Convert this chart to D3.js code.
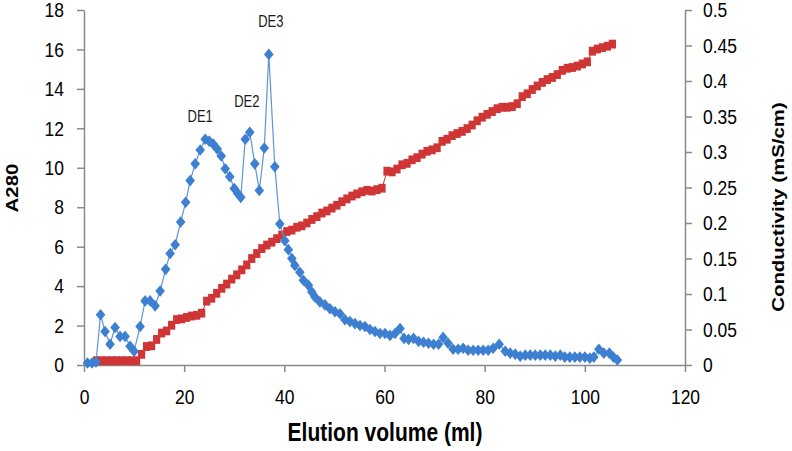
<!DOCTYPE html>
<html>
<head>
<meta charset="utf-8">
<script src="https://cdn.jsdelivr.net/npm/d3@7/dist/d3.min.js"></script>
<style>
  body { margin: 0; background: #fff; }
  text { font-family: "Liberation Sans", Arial, sans-serif; }
</style>
</head>
<body>
<div id="wrapper"></div>
<script>
// A280 readings (blue diamonds, left axis)
const volumeA280 = [
  0.7, 1.6, 2.4, 3.3, 4.2, 5.2, 6.2, 7.2, 8.2, 9.2, 10.0, 11.2, 12.2, 13.2, 14.2, 15.2,
  16.3, 17.2, 18.2, 19.3, 20.3, 21.2, 22.2, 23.2, 24.2, 25.0, 25.8, 26.6, 27.4, 28.2,
  29.1, 30.0, 30.7, 31.3, 32.2, 33.1, 34.1, 35.0, 36.0, 36.9, 38.1, 39.1, 40.1, 40.8,
  41.5, 42.1, 43.1, 43.8, 44.8, 45.5, 46.1, 47.1, 48.1, 49.1, 50.1, 51.1, 52.1, 53.1,
  54.1, 55.1, 56.1, 57.1, 58.1, 59.1, 60.1, 61.1, 62.1, 63.1, 63.9, 64.8, 65.8, 66.8,
  67.8, 68.8, 69.8, 70.8, 71.7, 72.7, 73.7, 74.7, 75.7, 76.7, 77.7, 78.7, 79.7, 80.7,
  81.7, 82.9, 84.1, 85.1, 86.1, 87.1, 88.1, 89.1, 90.1, 91.1, 92.1, 93.1, 94.1, 95.1,
  96.0, 97.0, 98.0, 99.0, 100.0, 101.0, 101.8, 102.8, 103.8, 104.9, 105.7, 106.5
]
const a280 = [
  0.1, 0.1, 0.15, 2.55, 1.7, 1.05, 1.9, 1.45, 1.45, 0.95, 0.7, 1.95, 3.25, 3.25, 3.0, 3.75,
  4.85, 5.65, 6.1, 7.25, 8.25, 9.35, 10.2, 10.9, 11.45, 11.35, 11.2, 10.95, 10.6, 9.95,
  9.55, 8.95, 8.7, 8.5, 11.45, 11.8, 10.2, 8.85, 11.0, 15.75, 10.05, 7.15, 6.3, 5.85,
  5.4, 5.05, 4.7, 4.3, 4.05, 3.7, 3.45, 3.2, 3.05, 2.85, 2.7, 2.6, 2.3, 2.2,
  2.1, 2.0, 1.95, 1.8, 1.7, 1.6, 1.6, 1.5, 1.6, 1.85, 1.35, 1.3, 1.35, 1.2,
  1.15, 1.1, 1.05, 1.05, 1.4, 1.1, 0.8, 0.8, 0.85, 0.75, 0.75, 0.75, 0.75, 0.75,
  0.85, 1.05, 0.7, 0.6, 0.55, 0.45, 0.5, 0.5, 0.5, 0.5, 0.5, 0.5, 0.45, 0.5,
  0.4, 0.4, 0.4, 0.4, 0.4, 0.35, 0.4, 0.8, 0.6, 0.6, 0.4, 0.25
]

// conductivity readings (red squares, right axis)
const volumeCond = [
  2.5, 3.5, 4.5, 5.5, 6.5, 7.5, 8.5, 9.5, 10.5, 11.5, 12.5, 13.5, 14.5, 15.5, 16.5, 17.5,
  18.5, 19.5, 20.5, 21.5, 22.5, 23.5, 24.5, 25.5, 26.5, 27.5, 28.5, 29.5, 30.5, 31.5,
  32.5, 33.5, 34.5, 35.5, 36.5, 37.5, 38.5, 39.5, 40.5, 41.5, 42.5, 43.5, 44.5, 45.5,
  46.5, 47.5, 48.5, 49.5, 50.5, 51.5, 52.5, 53.5, 54.5, 55.5, 56.5, 57.5, 58.5, 59.5,
  60.5, 61.5, 62.5, 63.5, 64.5, 65.5, 66.5, 67.5, 68.5, 69.5, 70.5, 71.5, 72.5, 73.5,
  74.5, 75.5, 76.5, 77.5, 78.5, 79.5, 80.5, 81.5, 82.5, 83.5, 84.5, 85.5, 86.5, 87.5,
  88.5, 89.5, 90.5, 91.5, 92.5, 93.5, 94.5, 95.5, 96.5, 97.5, 98.5, 99.5, 100.5, 101.5,
  102.5, 103.5, 104.5, 105.5
]
const conductivity = [
  0.006, 0.006, 0.006, 0.006, 0.006, 0.006, 0.006, 0.006, 0.006, 0.015, 0.026, 0.027, 0.036, 0.045, 0.048, 0.056,
  0.064, 0.065, 0.067, 0.069, 0.070, 0.073, 0.090, 0.094, 0.101, 0.108, 0.114, 0.121, 0.127, 0.134,
  0.141, 0.150, 0.157, 0.164, 0.169, 0.173, 0.178, 0.183, 0.188, 0.190, 0.194, 0.196, 0.200, 0.205,
  0.209, 0.214, 0.217, 0.221, 0.225, 0.230, 0.234, 0.238, 0.241, 0.244, 0.246, 0.245, 0.247, 0.249,
  0.273, 0.272, 0.276, 0.282, 0.284, 0.289, 0.292, 0.297, 0.301, 0.303, 0.306, 0.315, 0.318, 0.323,
  0.326, 0.329, 0.333, 0.338, 0.344, 0.349, 0.353, 0.357, 0.361, 0.363, 0.363, 0.364, 0.368, 0.378,
  0.382, 0.388, 0.393, 0.398, 0.402, 0.405, 0.409, 0.415, 0.418, 0.419, 0.421, 0.424, 0.427, 0.442,
  0.445, 0.447, 0.449, 0.452
]

const xTicks = [0, 20, 40, 60, 80, 100, 120]
const leftTicks = [0, 2, 4, 6, 8, 10, 12, 14, 16, 18]
const rightTicks = [0, 0.05, 0.1, 0.15, 0.2, 0.25, 0.3, 0.35, 0.4, 0.45, 0.5]

const peakNames = ["DE1", "DE2", "DE3"]
const peakLabelVolume = [23.2, 32.5, 37.3]
const peakLabelA280 = [12.3, 13.1, 17.15]

function drawChart() {

  // 1. Dimensions
  let dimensions = {
    width: 792,
    height: 451,
    margin: { top: 10, right: 107, bottom: 86, left: 84 },
  }
  dimensions.boundedWidth = dimensions.width - dimensions.margin.left - dimensions.margin.right
  dimensions.boundedHeight = dimensions.height - dimensions.margin.top - dimensions.margin.bottom

  // the picture is stretched a bit vertically, text too
  const stretch = 1.2
  const axisColor = "#8a8a8a"
  const blue = "#3d7fd1"
  const red = "#cf3535"

  // 2. Canvas
  const wrapper = d3.select("#wrapper")
    .append("svg")
      .attr("width", dimensions.width)
      .attr("height", dimensions.height)

  const bounds = wrapper.append("g")
      .attr("transform", `translate(${dimensions.margin.left}, ${dimensions.margin.top})`)

  // 3. Scales
  const xScale = d3.scaleLinear()
    .domain([0, 120])
    .range([0, dimensions.boundedWidth])

  const yScale = d3.scaleLinear()
    .domain([0, 18])
    .range([dimensions.boundedHeight, 0])

  const y2Scale = d3.scaleLinear()
    .domain([0, 0.5])
    .range([dimensions.boundedHeight, 0])

  // 4. Axes
  const styleAxis = (g) => {
    g.select(".domain").attr("stroke", axisColor).attr("stroke-width", 1.5)
    g.selectAll(".tick line").attr("stroke", axisColor).attr("stroke-width", 1.5)
    g.selectAll(".tick text")
      .attr("fill", "#000")
      .style("font-size", "17.5px")
      .attr("transform", `scale(1, ${stretch})`)
  }

  const yAxis = bounds.append("g")
    .call(d3.axisLeft(yScale)
      .tickValues(leftTicks)
      .tickSize(7)
      .tickSizeOuter(0)
      .tickPadding(13))
    .call(styleAxis)

  const y2Axis = bounds.append("g")
    .attr("transform", `translate(${dimensions.boundedWidth}, 0)`)
    .call(d3.axisRight(y2Scale)
      .tickValues(rightTicks)
      .tickFormat(d => d)
      .tickSize(7)
      .tickSizeOuter(0)
      .tickPadding(11))
    .call(styleAxis)

  const xAxis = bounds.append("g")
    .attr("transform", `translate(0, ${dimensions.boundedHeight})`)
    .call(d3.axisBottom(xScale)
      .tickValues(xTicks)
      .tickSize(7)
      .tickSizeOuter(0)
      .tickPadding(13))
    .call(styleAxis)

  // 5. Series
  const condData = volumeCond.map((v, i) => ({ v, c: conductivity[i] }))
  const a280Data = volumeA280.map((v, i) => ({ v, a: a280[i] }))

  const condLine = d3.line()
    .x(d => xScale(d.v))
    .y(d => y2Scale(d.c))
  bounds.append("path")
    .attr("d", condLine(condData))
    .attr("fill", "none")
    .attr("stroke", red)
    .attr("stroke-width", 1)

  bounds.append("g")
    .selectAll("rect")
    .data(condData)
    .join("rect")
      .attr("x", d => xScale(d.v) - 3.6)
      .attr("y", d => y2Scale(d.c) - 4.4)
      .attr("width", 7.2)
      .attr("height", 8.8)
      .attr("fill", red)

  const a280Line = d3.line()
    .x(d => xScale(d.v))
    .y(d => yScale(d.a))
  bounds.append("path")
    .attr("d", a280Line(a280Data))
    .attr("fill", "none")
    .attr("stroke", "#5d95d8")
    .attr("stroke-width", 1.2)

  const diamond = "M0,-5.8L4.8,0L0,5.8L-4.8,0Z"
  bounds.append("g")
    .selectAll("path")
    .data(a280Data)
    .join("path")
      .attr("d", diamond)
      .attr("transform", d => `translate(${xScale(d.v)}, ${yScale(d.a)})`)
      .attr("fill", blue)

  // 6. Peak labels
  bounds.append("g")
    .selectAll("text")
    .data(peakNames)
    .join("text")
      .attr("transform", (d, i) => `translate(${xScale(peakLabelVolume[i])}, ${yScale(peakLabelA280[i])}) scale(1, ${stretch})`)
      .attr("text-anchor", "middle")
      .style("font-size", "13px")
      .attr("fill", "#1a1a1a")
      .text(d => d)

  // 7. Axis titles
  wrapper.append("text")
    .attr("transform", `translate(18, 188) rotate(-90) scale(${stretch}, 1)`)
    .attr("text-anchor", "middle")
    .style("font-size", "17px")
    .style("font-weight", "bold")
    .text("A280")

  wrapper.append("text")
    .attr("transform", `translate(784, 207) rotate(-90) scale(${stretch}, 1)`)
    .attr("text-anchor", "middle")
    .style("font-size", "17px")
    .style("font-weight", "bold")
    .text("Conductivity (mS/cm)")

  wrapper.append("text")
    .attr("transform", `translate(385, 441) scale(1, ${stretch})`)
    .attr("text-anchor", "middle")
    .style("font-size", "21px")
    .style("font-weight", "bold")
    .text("Elution volume (ml)")
}

drawChart()
</script>
</body>
</html>
